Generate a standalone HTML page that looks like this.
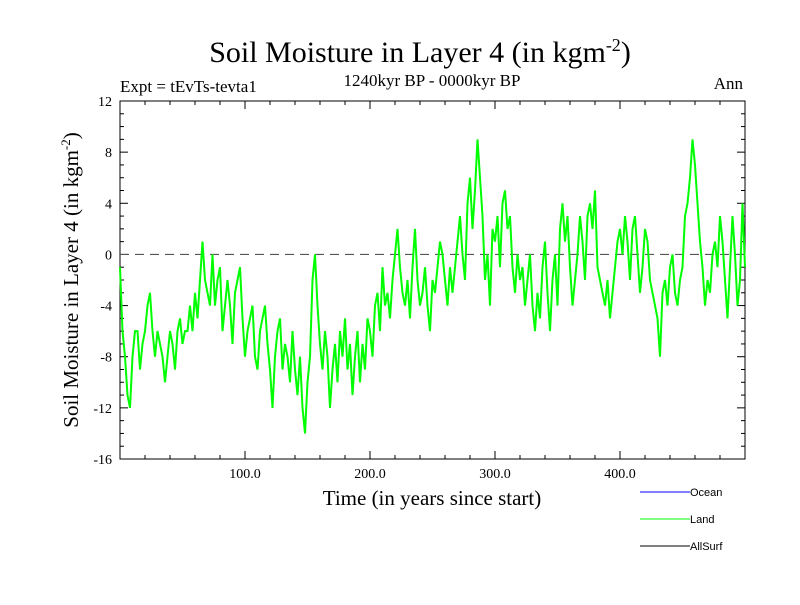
<!DOCTYPE html>
<html><head><meta charset="utf-8"><style>
body{margin:0;background:#fff;width:800px;height:600px;overflow:hidden}
text{font-family:"Liberation Serif",serif}
</style></head><body>
<svg id="c" width="800" height="600" xmlns="http://www.w3.org/2000/svg">
<text x="420" y="62" font-size="30" text-anchor="middle">Soil Moisture in Layer 4 (in kgm<tspan dy="-11" font-size="18">-2</tspan><tspan dy="11">)</tspan></text>
<text x="120" y="92" font-size="17">Expt = tEvTs-tevta1</text>
<text x="432" y="86" font-size="17" text-anchor="middle">1240kyr BP - 0000kyr BP</text>
<text x="743" y="89" font-size="17" text-anchor="end">Ann</text>
<text transform="translate(78,280) rotate(-90)" font-size="21" text-anchor="middle">Soil Moisture in Layer 4 (in kgm<tspan dy="-8" font-size="13">-2</tspan><tspan dy="8">)</tspan></text>
<text x="432" y="505" font-size="21" text-anchor="middle">Time (in years since start)</text>
<g id="axes"></g>
<g id="series"></g>
<g>
<line x1="640" y1="492" x2="690" y2="492" stroke="#0000ff"/>
<text x="690" y="496" style="font-family:'Liberation Sans',sans-serif;font-size:11px">Ocean</text>
<line x1="640" y1="519" x2="690" y2="519" stroke="#00ff00"/>
<text x="690" y="523" style="font-family:'Liberation Sans',sans-serif;font-size:11px">Land</text>
<line x1="640" y1="546" x2="690" y2="546" stroke="#000"/>
<text x="690" y="550" style="font-family:'Liberation Sans',sans-serif;font-size:11px">AllSurf</text>
</g>
</svg>
<script>
const yTicks=[12,8,4,0,-4,-8,-12,-16];
const xTickLabels=[100,200,300,400];
const years=[];for(let i=0;i<=250;i++)years.push(i*2);
const landValues=[-1,-6,-8,-11,-12,-8,-6,-6,-9,-7,-6,-4,-3,-6,-8,-6,-7,-8,-10,-8,-6,-7,-9,-6,-5,-7,-6,-6,-4,-6,-3,-5,-2,1,-2,-3,-4,0,-4,-2,-1,-6,-4,-2,-4,-7,-3,-2,-1,-5,-8,-6,-5,-4,-8,-9,-6,-5,-4,-7,-9,-12,-8,-6,-5,-9,-7,-8,-10,-6,-9,-11,-8,-12,-14,-10,-8,-2,0,-4,-7,-9,-6,-8,-12,-9,-7,-10,-6,-8,-5,-9,-7,-11,-8,-6,-10,-7,-9,-5,-6,-8,-4,-3,-6,-1,-4,-3,-5,-2,0,2,-1,-3,-4,-2,-5,-1,2,-2,-4,-3,-1,-4,-6,-2,-3,-1,1,0,-2,-4,-1,-3,-1,1,3,0,-2,4,6,2,5,9,6,3,-2,0,-4,2,1,3,-1,4,5,2,3,-1,-3,0,-2,-1,-4,-2,0,-4,-6,-3,-5,-1,1,-3,-6,-2,0,-4,2,4,1,3,-1,-4,-2,0,3,1,-2,3,4,2,5,-1,-2,-3,-4,-2,-5,-3,-1,1,2,0,3,1,-2,2,3,0,-3,-1,2,1,-2,-3,-4,-5,-8,-3,-2,-4,-1,0,-3,-4,-2,-1,3,4,6,9,7,4,1,-1,-4,-2,-3,0,1,-1,3,1,-2,-5,-1,3,0,-4,-2,4,-1];
const L=120,R=745,T=101,B=459;
const xs=v=>L+(v-0)/500*(R-L);
const ys=v=>T+(12-v)/28*(B-T);
const ax=document.getElementById('axes');
const NS='http://www.w3.org/2000/svg';
function mk(t,a,p){const e=document.createElementNS(NS,t);for(const k in a)e.setAttribute(k,a[k]);(p||ax).appendChild(e);return e;}
const fr=mk('rect',{x:L,y:T,width:R-L,height:B-T,fill:'none',stroke:'#000','stroke-width':1});


for(let v=-16;v<=12;v+=1){const y=ys(v);const big=v%4===0;
mk('line',{x1:L,y1:y,x2:L+(big?8:4),y2:y,stroke:'#000'});mk('line',{x1:R,y1:y,x2:R-(big?8:4),y2:y,stroke:'#000'});}
for(let v=0;v<=500;v+=20){const x=xs(v);const big=v%100===0;
mk('line',{x1:x,y1:B,x2:x,y2:B-(big?8:4),stroke:'#000'});mk('line',{x1:x,y1:T,x2:x,y2:T+(big?8:4),stroke:'#000'});}
yTicks.forEach(v=>{const t=mk('text',{x:L-8,y:ys(v)+5,'font-size':14,'text-anchor':'end'});t.textContent=v;

});
xTickLabels.forEach(v=>{const t=mk('text',{x:xs(v),y:B+19,'font-size':14,'text-anchor':'middle'});t.textContent=v.toFixed(1);

});
const z=mk('line',{x1:L,y1:ys(0),x2:R,y2:ys(0),stroke:'#555','stroke-dasharray':'9,6','stroke-width':1.2});


const d=landValues.map((v,i)=>(i?'L':'M')+xs(years[i]).toFixed(1)+','+ys(v).toFixed(1)).join('');
const p=mk('path',{d:d,fill:'none',stroke:'#00ff00','stroke-width':2},document.getElementById('series'));


</script>
</body></html>
